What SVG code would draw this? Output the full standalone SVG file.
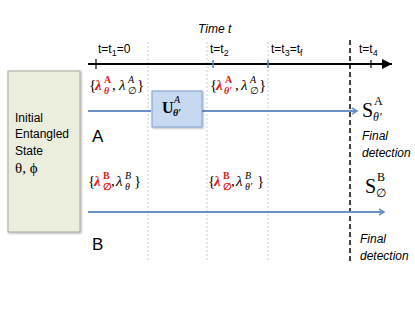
<svg xmlns="http://www.w3.org/2000/svg" width="415" height="312" viewBox="0 0 415 312">
<style>
.sans{font-family:"Liberation Sans",Arial,sans-serif;font-size:12px;fill:#000}
.big{font-size:17px}
.it{font-style:italic}
.ser{font-family:"Liberation Serif","DejaVu Serif",serif;fill:#000}
.red{fill:#e81818;font-weight:bold}
.lam{font-size:15px;font-style:italic}
.br{font-size:15px}
.sup{font-size:10px}
.grid{stroke:#c9d5e8;stroke-width:1.2;stroke-dasharray:2,2}
.beam{stroke:#6b8fc6;stroke-width:2;fill:none}
</style>
<defs>
<marker id="ah" markerWidth="8" markerHeight="8" refX="6" refY="4" orient="auto" markerUnits="userSpaceOnUse">
<path d="M1,1 L6,4 L1,7" fill="none" stroke="#6b8fc6" stroke-width="1.6"/>
</marker>
<marker id="ax" markerWidth="12" markerHeight="10" refX="10" refY="5" orient="auto" markerUnits="userSpaceOnUse">
<path d="M0,0 L10,5 L0,10 Z" fill="#000"/>
</marker>
<filter id="sh" x="-10%" y="-10%" width="130%" height="130%">
<feDropShadow dx="1" dy="1" stdDeviation="1" flood-color="#000" flood-opacity="0.3"/>
</filter>
</defs>

<g id="grid-lines">
<line class="grid" x1="148" y1="42" x2="148" y2="262"/>
<line class="grid" x1="207" y1="42" x2="207" y2="262"/>
<line class="grid" x1="268" y1="42" x2="268" y2="262"/>
</g>

<g id="time-axis">
<text class="sans it" x="198" y="33">Time t</text>
<line x1="88" y1="64" x2="392" y2="64" stroke="#000" stroke-width="2" marker-end="url(#ax)"/>
<line x1="96" y1="59" x2="96" y2="69" stroke="#000" stroke-width="1.2"/>
<line x1="213" y1="60" x2="213" y2="68" stroke="#4f81bd" stroke-width="1.5"/>
<line x1="268" y1="60" x2="268" y2="68" stroke="#4f81bd" stroke-width="1.5"/>
<line x1="371" y1="60" x2="371" y2="68" stroke="#000" stroke-width="1.2"/>
<text class="sans" x="98" y="53">t=t<tspan font-size="9" dy="3">1</tspan><tspan dy="-3">=0</tspan></text>
<text class="sans" x="210" y="53">t=t<tspan font-size="9" dy="3">2</tspan></text>
<text class="sans" x="271" y="53">t=t<tspan font-size="9" dy="3">3</tspan><tspan dy="-3">=t</tspan><tspan font-size="9" dy="3">f</tspan></text>
<text class="sans" x="359" y="53">t=t<tspan font-size="9" dy="3">4</tspan></text>
</g>

<g id="detection-line">
<line x1="350" y1="40" x2="350" y2="263" stroke="#000" stroke-width="1.5" stroke-dasharray="5,3"/>
</g>

<g id="connectors">
<line class="beam" x1="88" y1="111" x2="151" y2="111"/>
<line class="beam" x1="202" y1="111" x2="357" y2="111" marker-end="url(#ah)"/>
<line class="beam" x1="88" y1="212" x2="384" y2="212" marker-end="url(#ah)"/>
</g>

<g id="initial-state">
<rect x="8" y="71" width="72" height="161" fill="#ebeedd" stroke="#a5a59a" stroke-width="1" filter="url(#sh)"/>
<text class="sans" x="15" y="122">Initial</text>
<text class="sans" x="15" y="138">Entangled</text>
<text class="sans" x="15" y="155">State</text>
<text class="ser" x="15" y="173" font-size="15">θ, ϕ</text>
</g>

<g id="unitary">
<rect x="152" y="91" width="50" height="36" fill="#c6d9f1" stroke="#7f9fcf" stroke-width="1" filter="url(#sh)"/>
<text class="ser" x="162" y="113" font-size="16" font-weight="bold">U</text>
<text class="ser sup" x="174" y="103" font-style="italic">A</text>
<text class="ser sup" x="173" y="116" font-style="italic" font-weight="bold">θ′</text>
</g>

<g id="label-A">
<text class="sans big" x="92" y="142">A</text>
</g>
<g id="label-B">
<text class="sans big" x="92" y="250">B</text>
</g>

<g id="lambda-A1">
<text class="ser br" x="89" y="90">{</text>
<text class="ser lam red" x="95" y="90">λ</text>
<text class="ser sup red" x="104" y="83">A</text>
<text class="ser sup red" x="104" y="94" font-style="italic">θ</text>
<text class="ser br" x="112" y="90">,</text>
<text class="ser lam" x="119" y="90">λ</text>
<text class="ser sup" x="128" y="83" font-style="italic">A</text>
<text class="ser sup" x="128" y="94">∅</text>
<text class="ser br" x="137" y="90">}</text>
</g>

<g id="lambda-A2">
<text class="ser br" x="210" y="90">{</text>
<text class="ser lam red" x="216" y="90">λ</text>
<text class="ser sup red" x="225" y="83">A</text>
<text class="ser sup red" x="224" y="94" font-style="italic">θ′</text>
<text class="ser br" x="235" y="90">,</text>
<text class="ser lam" x="241" y="90">λ</text>
<text class="ser sup" x="250" y="83" font-style="italic">A</text>
<text class="ser sup" x="250" y="94">∅</text>
<text class="ser br" x="259" y="90">}</text>
</g>

<g id="lambda-B1">
<text class="ser br" x="88" y="186">{</text>
<text class="ser lam red" x="94" y="186">λ</text>
<text class="ser sup red" x="103" y="179">B</text>
<text class="ser sup red" x="103" y="190">∅</text>
<text class="ser br" x="111" y="186">,</text>
<text class="ser lam" x="116" y="186">λ</text>
<text class="ser sup" x="125" y="179" font-style="italic">B</text>
<text class="ser sup" x="125" y="190" font-style="italic">θ</text>
<text class="ser br" x="134" y="186">}</text>
</g>

<g id="lambda-B2">
<text class="ser br" x="208" y="186">{</text>
<text class="ser lam red" x="214" y="186">λ</text>
<text class="ser sup red" x="223" y="179">B</text>
<text class="ser sup red" x="223" y="190">∅</text>
<text class="ser br" x="231" y="186">,</text>
<text class="ser lam" x="236" y="186">λ</text>
<text class="ser sup" x="245" y="179" font-style="italic">B</text>
<text class="ser sup" x="245" y="190" font-style="italic">θ′</text>
<text class="ser br" x="257" y="186">}</text>
</g>

<g id="detector-A">
<text class="ser" x="362" y="117" font-size="20">S</text>
<text class="ser" x="374" y="105" font-size="12">A</text>
<text class="ser" x="373" y="121" font-size="12" font-style="italic">θ′</text>
<text class="sans it" x="362" y="140">Final</text>
<text class="sans it" x="362" y="157">detection</text>
</g>

<g id="detector-B">
<text class="ser" x="365" y="193" font-size="20">S</text>
<text class="ser" x="377" y="181" font-size="12">B</text>
<text class="ser" x="376" y="197" font-size="12">∅</text>
<text class="sans it" x="360" y="243">Final</text>
<text class="sans it" x="360" y="260">detection</text>
</g>
</svg>
